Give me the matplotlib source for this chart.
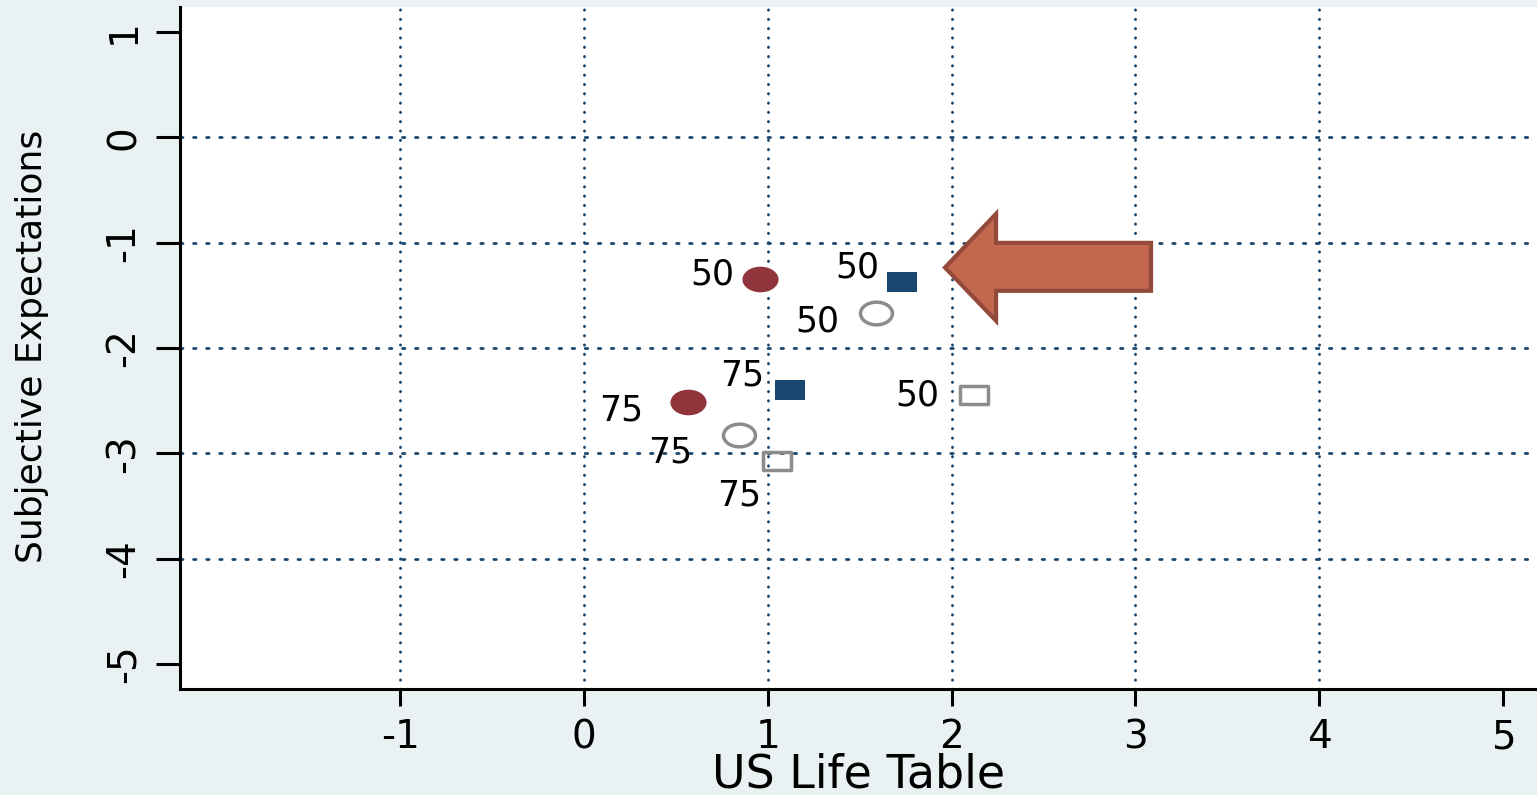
import matplotlib
matplotlib.use("Agg")
import matplotlib.pyplot as plt
from matplotlib.path import Path
from matplotlib.transforms import Affine2D
from matplotlib.patches import Polygon

# values
ages = ["50", "75"]
circle_filled_x = [0.960, 0.567]
circle_filled_y = [-1.348, -2.508]
square_filled_x = [1.730, 1.121]
square_filled_y = [-1.377, -2.399]
circle_hollow_x = [1.589, 0.842]
circle_hollow_y = [-1.668, -2.822]
square_hollow_x = [2.121, 1.051]
square_hollow_y = [-2.447, -3.073]

x_ticks = [-1, 0, 1, 2, 3, 4, 5]
y_ticks = [-5, -4, -3, -2, -1, 0, 1]
x_grid = [-1, 0, 1, 2, 3, 4]
y_grid = [-4, -3, -2, -1, 0]

# arrow pointing at the filled square (annotation shape)
arrow_x = [3.085, 2.242, 2.242, 1.964, 2.242, 2.242, 3.085]
arrow_y = [-1.002, -1.002, -0.726, -1.236, -1.742, -1.457, -1.457]

bg = "#eaf1f3"
navy = "#1a476f"
maroon = "#90353b"
grey = "#8c8c8c"

plt.rcParams["axes.unicode_minus"] = False
plt.rcParams["lines.scale_dashes"] = False
plt.rcParams["font.family"] = ["DejaVu Sans"]

# the source image is stretched sideways, so the markers are too
ellipse = Path.unit_circle().transformed(Affine2D().scale(1.0, 0.71))
rect = Path.unit_rectangle().transformed(Affine2D().translate(-0.5, -0.5).scale(1.0, 0.67))

fig = plt.figure(figsize=(15.37, 7.95), dpi=100, facecolor=bg)
ax = fig.add_axes([180 / 1537, 106 / 795, 1357 / 1537, 682 / 795])
ax.set_facecolor("white")

for gx in x_grid:
    ax.axvline(gx, color=navy, lw=2.1, ls=(0, (0.2, 6.5)),
               dash_capstyle="round", zorder=1)
for gy in y_grid:
    ax.axhline(gy, color=navy, lw=2.0, ls=(0, (1.8, 7.6)),
               dash_capstyle="round", zorder=1)

ax.plot(circle_filled_x, circle_filled_y, ls="none", marker=ellipse,
        ms=26, color=maroon, mew=0, zorder=3)
ax.plot(square_filled_x, square_filled_y, ls="none", marker=rect,
        ms=22, color=navy, mew=0, zorder=3)
ax.plot(circle_hollow_x, circle_hollow_y, ls="none", marker=ellipse,
        ms=23, mfc="none", mec=grey, mew=2.5, zorder=3)
ax.plot(square_hollow_x, square_hollow_y, ls="none", marker=rect,
        ms=20, mfc="none", mec=grey, mew=2.5, zorder=3)

label_offsets = {
    "cf": [(-48, 5), (-67, -9)],
    "sf": [(-45, 15), (-48, 15)],
    "ch": [(-59, -8), (-69, -18)],
    "sh": [(-57, 0), (-38, -34)],
}
series = {
    "cf": (circle_filled_x, circle_filled_y),
    "sf": (square_filled_x, square_filled_y),
    "ch": (circle_hollow_x, circle_hollow_y),
    "sh": (square_hollow_x, square_hollow_y),
}
for key, (xs, ys) in series.items():
    for i in range(len(xs)):
        ax.annotate(ages[i], (xs[i], ys[i]), xytext=label_offsets[key][i],
                    textcoords="offset pixels", ha="center", va="center",
                    fontsize=25, color="black", zorder=4)

ax.add_patch(Polygon(list(zip(arrow_x, arrow_y)), closed=True,
                     facecolor="#c4674f", edgecolor="#944a3a", lw=3.0,
                     joinstyle="miter", zorder=5))

ax.set_xlim(-2.198, 5.185)
ax.set_ylim(-5.237, 1.237)
ax.set_xticks(x_ticks)
ax.set_yticks(y_ticks)
ax.set_xticklabels([str(v) for v in x_ticks])
ax.set_yticklabels([str(v) for v in y_ticks], rotation=90, va="center")

for side in ["top", "right"]:
    ax.spines[side].set_visible(False)
for side in ["left", "bottom"]:
    ax.spines[side].set_linewidth(2.2)
    ax.spines[side].set_color("black")

ax.tick_params(axis="x", length=12, width=2.2, pad=9, labelsize=28)
ax.tick_params(axis="y", length=17, width=2.2, pad=10, labelsize=28)

ax.set_xlabel("US Life Table", fontsize=33, va="baseline")
ax.xaxis.set_label_coords(0.5, -0.145)
ax.set_ylabel("Subjective Expectations", fontsize=26, va="center")
ax.yaxis.set_label_coords(-0.109, 0.503)

fig.savefig("out.png", dpi=100, facecolor=bg)
